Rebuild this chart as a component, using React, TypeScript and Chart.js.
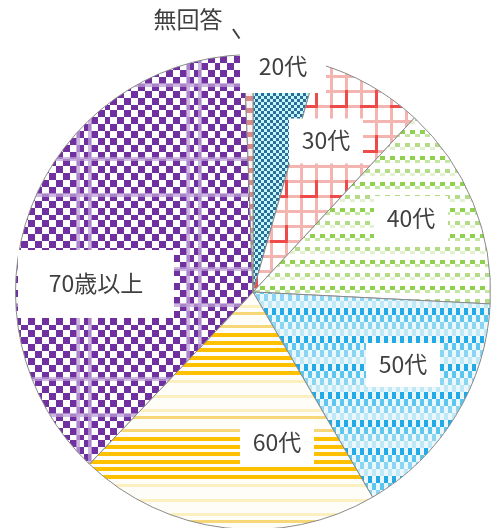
import React, { useEffect, useRef } from "react";
import { Chart, registerables } from "chart.js";

Chart.register(...registerables);

const categories = ["20代", "30代", "40代", "50代", "60代", "70歳以上", "無回答"];
const shares = [4.4, 7.5, 13.9, 15.8, 20.5, 37.3, 0.6];

// label layout: centre of the white box and its size (px)
const labelBoxes = [
  { cx: 283, cy: 67, w: 86, h: 52 },
  { cx: 326, cy: 141, w: 74, h: 45 },
  { cx: 411, cy: 219, w: 74, h: 46 },
  { cx: 403, cy: 365, w: 74, h: 44 },
  { cx: 277, cy: 443, w: 74, h: 44 },
  { cx: 96, cy: 284, w: 156, h: 68 },
  { cx: 188, cy: 19, w: 0, h: 0 },
];

function tile(w: number, h: number, draw: (c: CanvasRenderingContext2D) => void) {
  const cv = document.createElement("canvas");
  cv.width = w;
  cv.height = h;
  const c = cv.getContext("2d")!;
  draw(c);
  return cv;
}

function makePatterns(ctx: CanvasRenderingContext2D) {
  const p = (cv: HTMLCanvasElement) => ctx.createPattern(cv, "repeat")!;

  // 20代: fine blue checker
  const t20 = tile(6, 6, (c) => {
    c.fillStyle = "#c4f6fd";
    c.fillRect(0, 0, 6, 6);
    c.fillStyle = "#2a6d96";
    c.fillRect(0, 0, 3, 3);
    c.fillRect(3, 3, 3, 3);
  });

  // 30代: red grid on white (partly faded)
  const t30 = tile(30, 45, (c) => {
    c.fillStyle = "#ffffff";
    c.fillRect(0, 0, 30, 45);
    c.fillStyle = "#f4b4b0";
    c.fillRect(0, 0, 3, 45);
    c.fillRect(15, 0, 3, 45);
    c.fillRect(0, 0, 30, 3);
    c.fillRect(0, 15, 30, 3);
    c.fillRect(0, 30, 30, 3);
    c.fillStyle = "#ee4a4a";
    c.fillRect(15, 0, 3, 18);
    c.fillRect(0, 15, 18, 3);
  });

  // 40代: rows of green dashes
  const t40 = tile(10, 26, (c) => {
    c.fillStyle = "#ffffff";
    c.fillRect(0, 0, 10, 26);
    c.fillStyle = "#8fd04c";
    c.fillRect(0, 0, 5, 4);
    c.fillStyle = "#c6e6a4";
    c.fillRect(5, 4, 5, 3);
    c.fillStyle = "#b4dc88";
    c.fillRect(5, 13, 5, 4);
    c.fillStyle = "#e2f2d0";
    c.fillRect(0, 17, 5, 3);
  });

  // 50代: tall blue checker, partly pale
  const t50 = tile(8, 28, (c) => {
    c.fillStyle = "#eaf8fd";
    c.fillRect(0, 0, 8, 28);
    c.fillStyle = "#22aae6";
    c.fillRect(0, 0, 4, 7);
    c.fillStyle = "#5cc6ee";
    c.fillRect(4, 7, 4, 7);
    c.fillStyle = "#8ad6f2";
    c.fillRect(0, 14, 4, 7);
    c.fillStyle = "#bfe8f7";
    c.fillRect(4, 21, 4, 7);
  });

  // 60代: yellow stripe bands
  const t60 = tile(4, 104, (c) => {
    c.fillStyle = "#fffdf8";
    c.fillRect(0, 0, 4, 104);
    const strong = [21, 29, 36, 44, 51, 59];
    c.fillStyle = "#ffc000";
    strong.forEach((y) => c.fillRect(0, y, 4, 4));
    c.fillStyle = "#f6d878";
    [13, 0].forEach((y) => c.fillRect(0, y, 4, 3));
    c.fillStyle = "#fdf0c0";
    [68, 83, 97].forEach((y) => c.fillRect(0, y, 4, 3));
  });

  // 70歳以上: purple checker with lavender stripes
  const t70 = tile(110, 110, (c) => {
    c.fillStyle = "#ffffff";
    c.fillRect(0, 0, 110, 110);
    c.fillStyle = "#7030a0";
    for (let y = 0; y < 110; y += 7) {
      for (let x = 0; x < 110; x += 7) {
        if (((x / 7) + (y / 7)) % 2 === 0) c.fillRect(x, y, 7, 7);
      }
    }
    c.fillStyle = "rgba(190,160,215,0.75)";
    c.fillRect(76, 0, 4, 110);
    c.fillRect(88, 0, 4, 110);
    c.fillRect(0, 47, 110, 4);
    c.fillRect(0, 83, 110, 4);
  });

  // 無回答
  const tNa = tile(4, 12, (c) => {
    c.fillStyle = "#fbf1f1";
    c.fillRect(0, 0, 4, 12);
    c.fillStyle = "#d88a8a";
    c.fillRect(0, 0, 4, 5);
  });

  return [p(t20), p(t30), p(t40), p(t50), p(t60), p(t70), p(tNa)];
}

const FONT = '"Noto Sans CJK JP", "Noto Sans", sans-serif';

const labelPlugin = {
  id: "boxLabels",
  afterDatasetsDraw(chart: any) {
    const ctx: CanvasRenderingContext2D = chart.ctx;
    ctx.save();
    categories.forEach((name, i) => {
      const b = labelBoxes[i];
      if (b.w > 0) {
        ctx.fillStyle = "#ffffff";
        ctx.fillRect(b.cx - b.w / 2, b.cy - b.h / 2, b.w, b.h);
      }
      ctx.fillStyle = "#404040";
      ctx.font = `23px ${FONT}`;
      ctx.textAlign = "center";
      ctx.textBaseline = "middle";
      ctx.fillText(name, b.cx, b.cy - (b.w > 0 ? 1 : 0));
    });
    // leader line for 無回答
    ctx.strokeStyle = "#404040";
    ctx.lineWidth = 2;
    ctx.beginPath();
    ctx.moveTo(233, 29);
    ctx.lineTo(239.5, 38.5);
    ctx.stroke();
    ctx.restore();
  },
};

export default function App() {
  const ref = useRef<HTMLCanvasElement>(null);
  useEffect(() => {
    const canvas = ref.current!;
    const ctx = canvas.getContext("2d")!;
    const patterns = makePatterns(ctx);
    const chart = new Chart(canvas, {
      type: "pie",
      data: {
        labels: categories,
        datasets: [
          {
            data: shares,
            backgroundColor: patterns as any,
            borderColor: "#8a8a8a",
            borderWidth: 1,
          },
        ],
      },
      options: {
        responsive: false,
        animation: false,
        layout: { padding: { left: 15, right: 3, top: 54, bottom: 10 } },
        plugins: { legend: { display: false }, tooltip: { enabled: false } },
      },
      plugins: [labelPlugin],
    });
    return () => chart.destroy();
  }, []);
  return (
    <div
      style={{
        position: "fixed",
        left: 0,
        top: 0,
        width: 494,
        height: 528,
        overflow: "hidden",
        background: "#ffffff",
      }}
    >
      <canvas ref={ref} width={494} height={540} style={{ display: "block" }} />
    </div>
  );
}
